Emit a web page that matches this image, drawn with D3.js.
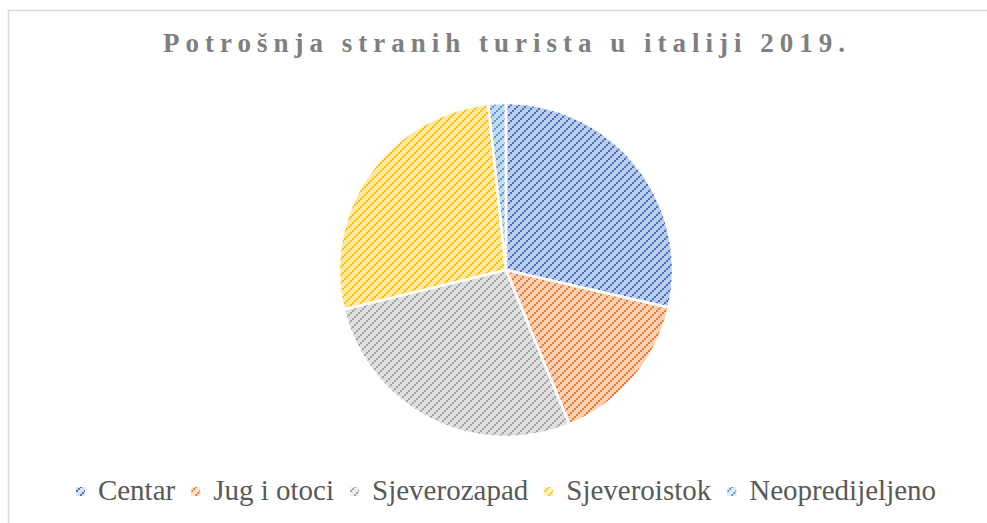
<!DOCTYPE html>
<html>
<head>
<meta charset="utf-8">
<script src="https://cdn.jsdelivr.net/npm/d3@7"></script>
<style>
  body { margin: 0; background: #fff; }
  #chart-container { width: 987px; height: 523px; }
  svg text { font-family: 'Liberation Serif', 'Times New Roman', Times, 'DejaVu Serif', serif; }
</style>
</head>
<body>
<div id="chart-container"></div>
<script>
// DATA
const title = 'Potrošnja stranih turista u italiji 2019.'
const categories = ['Centar', 'Jug i otoci', 'Sjeverozapad', 'Sjeveroistok', 'Neopredijeljeno']
const shares = [28.6, 15.2, 27.4, 27.1, 1.7]

// SETTINGS
const settings = {
    width: 987,
    height: 523,
    pie: { cx: 506, cy: 270, r: 167 },
    title: { x: 163, y: 52, width: 682, size: 27 },
    legend: { cx: 506, y: 500, size: 29, marker: 9, markerGap: 13, itemGap: 16 },
    fg: ['#4472C4', '#ED7D31', '#A5A5A5', '#FFC000', '#5B9BD5'],
    bg: ['#dbe3f4', '#fce5d6', '#eeeeee', '#fff3cc', '#deebf7']
}

const svg = d3.select('#chart-container').append('svg')
    .attr('width', settings.width)
    .attr('height', settings.height)

const defs = svg.append('defs')

// wide upward diagonal patterns + soft rim
categories.forEach((c, i) => {
    const p = defs.append('pattern')
        .attr('id', 'pat-' + i)
        .attr('patternUnits', 'userSpaceOnUse')
        .attr('width', 8)
        .attr('height', 8)
    p.append('rect').attr('width', 8).attr('height', 8).attr('fill', settings.bg[i])
    ;[[0, 6], [2, 4], [4, 2], [6, 0]].forEach(([x, y]) => {
        p.append('rect').attr('x', x).attr('y', y).attr('width', 2).attr('height', 2).attr('fill', settings.fg[i])
    })

    const g = defs.append('radialGradient')
        .attr('id', 'rim-' + i)
        .attr('gradientUnits', 'userSpaceOnUse')
        .attr('cx', settings.pie.cx)
        .attr('cy', settings.pie.cy)
        .attr('r', settings.pie.r)
    g.append('stop').attr('offset', 0.85).attr('stop-color', settings.fg[i]).attr('stop-opacity', 0)
    g.append('stop').attr('offset', 1).attr('stop-color', settings.fg[i]).attr('stop-opacity', 0.2)
})

// frame
svg.append('rect')
    .attr('x', 8.5)
    .attr('y', 10.5)
    .attr('width', 1000)
    .attr('height', 530)
    .attr('fill', 'none')
    .attr('stroke', '#d9d9d9')
    .attr('stroke-width', 1.5)

// title
const titleText = svg.append('text')
    .attr('x', settings.title.x)
    .attr('y', settings.title.y)
    .style('font-weight', 'bold')
    .style('font-size', settings.title.size + 'px')
    .attr('fill', '#7f7f7f')
    .text(title)
const baseWidth = titleText.node().getComputedTextLength()
titleText.style('letter-spacing', ((settings.title.width - baseWidth) / (title.length - 1)) + 'px')

// pie
const pie = d3.pie().sort(null).value(d => d)
const arc = d3.arc().innerRadius(0).outerRadius(settings.pie.r)
const arcs = pie(shares)

const pieGroup = svg.append('g')
    .attr('transform', `translate(${settings.pie.cx}, ${settings.pie.cy})`)

pieGroup.selectAll('.slice')
    .data(arcs)
    .enter().append('path')
    .attr('class', 'slice')
    .attr('d', arc)
    .attr('fill', (d, i) => `url(#pat-${i})`)

// rim shading (gradient in page coords)
svg.append('g').selectAll('.rim')
    .data(arcs)
    .enter().append('path')
    .attr('class', 'rim')
    .attr('transform', `translate(${settings.pie.cx}, ${settings.pie.cy})`)
    .attr('d', arc)
    .attr('fill', (d, i) => `url(#rim-${i})`)
    .attr('stroke', '#fff')
    .attr('stroke-width', 2.5)

// legend
const legend = svg.append('g')
const items = legend.selectAll('.item')
    .data(categories)
    .enter().append('g')
    .attr('class', 'item')

items.append('rect')
    .attr('width', settings.legend.marker)
    .attr('height', settings.legend.marker)
    .attr('y', -settings.legend.marker - 4)
    .attr('fill', (d, i) => `url(#pat-${i})`)

items.append('text')
    .attr('x', settings.legend.marker + settings.legend.markerGap)
    .style('font-size', settings.legend.size + 'px')
    .attr('fill', '#595959')
    .text(d => d)

const widths = []
items.each(function() {
    widths.push(settings.legend.marker + settings.legend.markerGap + d3.select(this).select('text').node().getComputedTextLength())
})
const total = d3.sum(widths) + settings.legend.itemGap * (widths.length - 1)
let offset = settings.legend.cx - total / 2
items.attr('transform', (d, i) => {
    const x = offset
    offset += widths[i] + settings.legend.itemGap
    return `translate(${x}, ${settings.legend.y})`
})
</script>
</body>
</html>
